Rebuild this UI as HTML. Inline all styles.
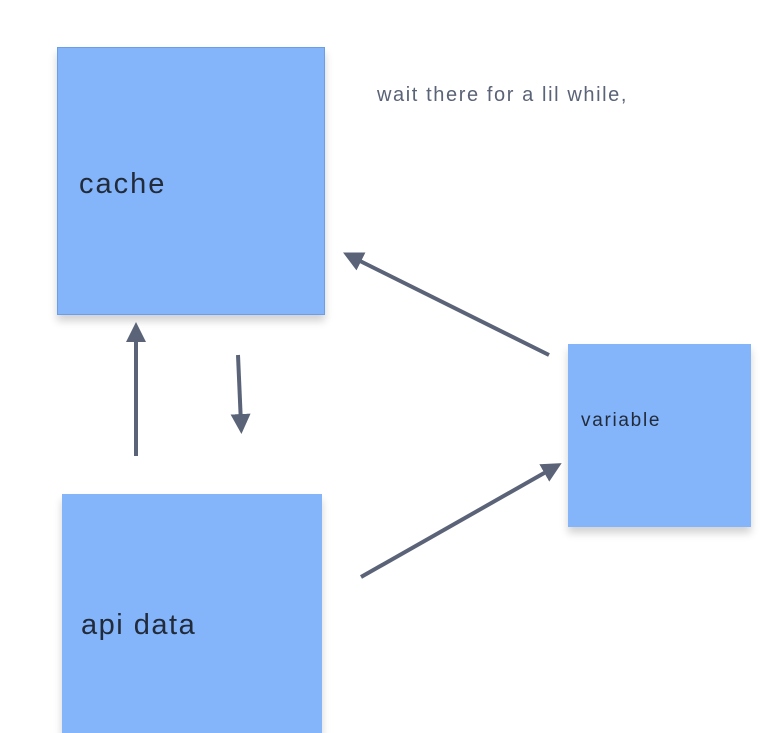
<!DOCTYPE html><html><head><style>
body{margin:0;width:782px;height:733px;background:#fff;position:relative;overflow:hidden;font-family:"Liberation Sans",sans-serif}
.b{position:absolute;background:#84b4fa;box-shadow:0 6px 8px rgba(0,0,0,0.18);color:#222b3a}
</style></head><body>
<div class="b" style="left:57px;top:47px;width:268px;height:268px;border:1px solid #6a9ee8;box-sizing:border-box"><div style="position:absolute;left:21px;top:120px;font-size:29px;letter-spacing:2px">cache</div></div>
<div class="b" style="left:62px;top:494px;width:260px;height:239px"><div style="position:absolute;left:19px;top:115px;font-size:29px;letter-spacing:1.5px">api data</div></div>
<div class="b" style="left:568px;top:344px;width:183px;height:183px"><div style="position:absolute;left:13px;top:66px;font-size:19px;letter-spacing:1.7px">variable</div></div>
<div style="position:absolute;left:377px;top:84px;font-size:20px;color:#5a6377;letter-spacing:1.6px">wait there for a lil while,</div>
<svg width="782" height="733" style="position:absolute;left:0;top:0">
<defs><marker id="a" markerWidth="5" markerHeight="5" refX="2.5" refY="2.5" orient="auto" markerUnits="strokeWidth"><path d="M0,0 L5,2.5 L0,5z" fill="#5a6377"/></marker></defs>
<g stroke="#5a6377" stroke-width="4" fill="none">
<line x1="136" y1="456" x2="136" y2="332" marker-end="url(#a)"/>
<line x1="238" y1="355" x2="241" y2="424" marker-end="url(#a)"/>
<line x1="549" y1="355" x2="352" y2="257" marker-end="url(#a)"/>
<line x1="361" y1="577" x2="553" y2="468" marker-end="url(#a)"/>
</g></svg>
</body></html>
